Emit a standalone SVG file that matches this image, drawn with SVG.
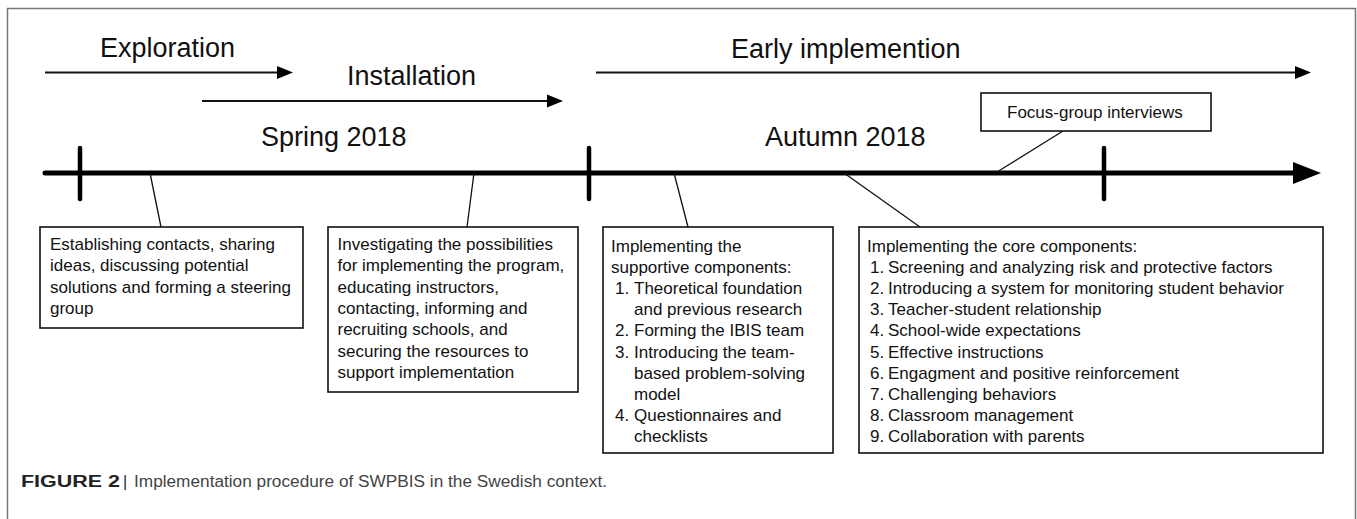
<svg xmlns="http://www.w3.org/2000/svg" width="1357" height="519" viewBox="0 0 1357 519">
<style>
text{font-family:"Liberation Sans",Arial,Helvetica,sans-serif;fill:#111}
.big{font-size:27px}
.body{font-size:17px}
.box{fill:#fff;stroke:#111;stroke-width:1.6}
.thin{stroke:#111;stroke-width:1.3;fill:none}
.tick{stroke:#000;stroke-width:4.5;stroke-linecap:round}
.head{fill:#000}
</style>
<rect width="1357" height="519" fill="#fff"/>
<path d="M7.5 525 V8.5 H1355.5 V525" fill="none" stroke="#777" stroke-width="1.5"/>

<g id="phases">
  <g id="exploration">
    <text class="big" x="100" y="57">Exploration</text>
    <line x1="45" y1="72.5" x2="279" y2="72.5" stroke="#111" stroke-width="1.8"/>
    <polygon class="head" points="277,66 293,72.5 277,79"/>
  </g>
  <g id="installation">
    <text class="big" x="347" y="85">Installation</text>
    <line x1="202" y1="101" x2="549" y2="101" stroke="#111" stroke-width="1.8"/>
    <polygon class="head" points="547,94.5 563,101 547,107.5"/>
  </g>
  <g id="early">
    <text class="big" x="731" y="58">Early implemention</text>
    <line x1="596" y1="72.5" x2="1297" y2="72.5" stroke="#111" stroke-width="1.8"/>
    <polygon class="head" points="1295,66 1311,72.5 1295,79"/>
  </g>
</g>

<g id="timeline">
  <line x1="45" y1="173" x2="1296" y2="173" stroke="#000" stroke-width="5" stroke-linecap="round"/>
  <polygon class="head" points="1293,162 1321,173 1293,184"/>
  <line class="tick" x1="80" y1="148" x2="80" y2="199"/>
  <line class="tick" x1="589" y1="148" x2="589" y2="199"/>
  <line class="tick" x1="1104" y1="148" x2="1104" y2="199"/>
  <text class="big" x="261" y="146">Spring 2018</text>
  <text class="big" x="765" y="146">Autumn 2018</text>
</g>

<g id="connectors">
  <line class="thin" x1="150" y1="173" x2="161" y2="227"/>
  <line class="thin" x1="474" y1="173" x2="467" y2="227"/>
  <line class="thin" x1="674" y1="173" x2="688" y2="227"/>
  <line class="thin" x1="844" y1="173" x2="920" y2="227"/>
  <line class="thin" x1="997" y1="172" x2="1063" y2="131"/>
</g>

<g id="focus-group">
  <rect class="box" x="981" y="93" width="230" height="38"/>
  <text class="body" x="1007" y="118">Focus-group interviews</text>
</g>

<g id="box1">
  <rect class="box" x="40" y="227" width="263" height="101"/>
  <text class="body">
    <tspan x="50" y="250">Establishing contacts, sharing</tspan>
    <tspan x="50" y="271.3">ideas, discussing potential</tspan>
    <tspan x="50" y="292.6">solutions and forming a steering</tspan>
    <tspan x="50" y="313.9">group</tspan>
  </text>
</g>

<g id="box2">
  <rect class="box" x="328" y="227" width="250" height="165"/>
  <text class="body">
    <tspan x="337.5" y="250">Investigating the possibilities</tspan>
    <tspan x="337.5" y="271.3">for implementing the program,</tspan>
    <tspan x="337.5" y="292.6">educating instructors,</tspan>
    <tspan x="337.5" y="313.9">contacting, informing and</tspan>
    <tspan x="337.5" y="335.2">recruiting schools, and</tspan>
    <tspan x="337.5" y="356.5">securing the resources to</tspan>
    <tspan x="337.5" y="377.8">support implementation</tspan>
  </text>
</g>

<g id="box3">
  <rect class="box" x="603" y="227" width="230" height="226"/>
  <text class="body">
    <tspan x="611" y="252">Implementing the</tspan>
    <tspan x="611" y="273.1">supportive components:</tspan>
    <tspan x="615" y="294.2">1.</tspan><tspan x="634" y="294.2">Theoretical foundation</tspan>
    <tspan x="634" y="315.3">and previous research</tspan>
    <tspan x="615" y="336.4">2.</tspan><tspan x="634" y="336.4">Forming the IBIS team</tspan>
    <tspan x="615" y="357.5">3.</tspan><tspan x="634" y="357.5">Introducing the team-</tspan>
    <tspan x="634" y="378.6">based problem-solving</tspan>
    <tspan x="634" y="399.7">model</tspan>
    <tspan x="615" y="420.8">4.</tspan><tspan x="634" y="420.8">Questionnaires and</tspan>
    <tspan x="634" y="441.9">checklists</tspan>
  </text>
</g>

<g id="box4">
  <rect class="box" x="859" y="227" width="464" height="226"/>
  <text class="body">
    <tspan x="867" y="252">Implementing the core components:</tspan>
    <tspan x="870" y="273.1">1.</tspan><tspan x="888" y="273.1">Screening and analyzing risk and protective factors</tspan>
    <tspan x="870" y="294.2">2.</tspan><tspan x="888" y="294.2">Introducing a system for monitoring student behavior</tspan>
    <tspan x="870" y="315.3">3.</tspan><tspan x="888" y="315.3">Teacher-student relationship</tspan>
    <tspan x="870" y="336.4">4.</tspan><tspan x="888" y="336.4">School-wide expectations</tspan>
    <tspan x="870" y="357.5">5.</tspan><tspan x="888" y="357.5">Effective instructions</tspan>
    <tspan x="870" y="378.6">6.</tspan><tspan x="888" y="378.6">Engagment and positive reinforcement</tspan>
    <tspan x="870" y="399.7">7.</tspan><tspan x="888" y="399.7">Challenging behaviors</tspan>
    <tspan x="870" y="420.8">8.</tspan><tspan x="888" y="420.8">Classroom management</tspan>
    <tspan x="870" y="441.9">9.</tspan><tspan x="888" y="441.9">Collaboration with parents</tspan>
  </text>
</g>

<g id="caption">
  <text x="21" y="487" style="font-size:16px;font-weight:bold;fill:#222" textLength="99" lengthAdjust="spacingAndGlyphs">FIGURE 2</text>
  <text x="123" y="487" style="font-size:16px;fill:#222">|</text>
  <text x="134" y="487" style="font-size:16px;fill:#444" textLength="473" lengthAdjust="spacingAndGlyphs">Implementation procedure of SWPBIS in the Swedish context.</text>
</g>
</svg>
